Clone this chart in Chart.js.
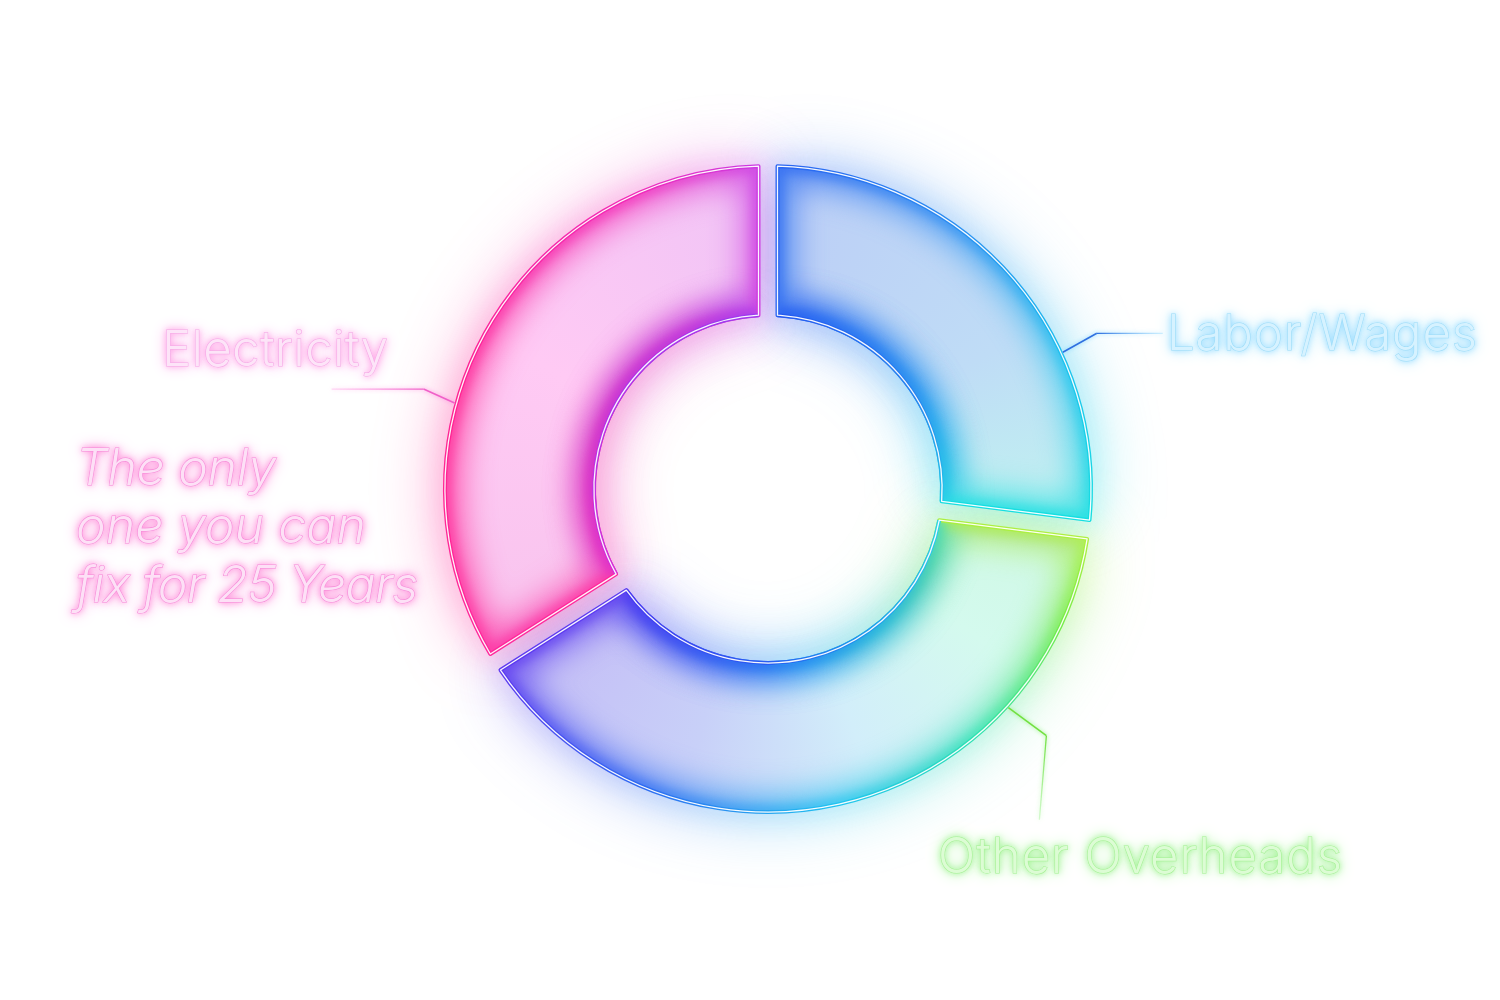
<!DOCTYPE html>
<html>
<head>
<meta charset="utf-8">
<script src="https://cdn.jsdelivr.net/npm/chart.js@4.4.0/dist/chart.umd.min.js"></script>
<style>
html,body{margin:0;padding:0;background:#ffffff;}
#c{display:block;}
</style>
</head>
<body>
<canvas id="c" width="1500" height="1000"></canvas>
<script>
// ---- data ----
const categories = ['Labor/Wages', 'Other Overheads', 'Electricity'];
const shares = [27, 39, 34];
const noteLines = ['The only', 'one you can', 'fix for 25 Years'];

// ---- styles (relative position inside each segment -> colour) ----
const edgeStops = [
  [[0,'#2a62f2'],[0.35,'#2a8cf2'],[0.7,'#1ec4ee'],[1,'#16e0e0']],
  [[0,'#b4f040'],[0.12,'#78ec48'],[0.3,'#30e2b0'],[0.5,'#20c4f0'],[0.75,'#2e6cf2'],[1,'#6038f0']],
  [[0,'#ff2a9c'],[0.4,'#ff2492'],[0.8,'#f22cb8'],[1,'#c83ce6']]
];
const innerStops = [
  [[0,'#2456f0'],[0.6,'#2a84f0'],[1,'#26cce8']],
  [[0,'#2ed8e8'],[0.35,'#2098f0'],[0.6,'#2a5cf2'],[1,'#4a36f0']],
  [[0,'#d630d8'],[0.5,'#b036ea'],[1,'#9a3cee']]
];
const fillStops = [
  [[0,'#bccef6'],[0.6,'#bfdcf6'],[1,'#c0f2f0']],
  [[0,'#cff8e4'],[0.2,'#d4faee'],[0.45,'#d2eefa'],[0.7,'#c8d0f8'],[1,'#c4bcf6']],
  [[0,'#f8c4ee'],[0.5,'#ffcaf4'],[1,'#f0c4f6']]
];
const labelStyles = [
  {x:1167, y:350, w:310, core:'#d6f2ff', line:'#9edcf8', glow:'#7fd4ff', lead:'#2f70e0', t:0.67, elbow:[34,-19], end:[66,0]},
  {x:938, y:873, w:404, core:'#dcfcd4', line:'#a6f096', glow:'#8cf07c', lead:'#72e040', t:0.25, elbow:[38,28], end:[-7,84]},
  {x:162, y:366, w:226, core:'#fde4f8', line:'#f4a8e6', glow:'#ff8ee0', lead:'#f060c8', t:0.39, elbow:[-31,-14], end:[-92,0]}
];
const GAP = 19;

function conic(ctx, a, stops){
  const g = ctx.createConicGradient(a.startAngle, a.x, a.y);
  const span = (a.endAngle - a.startAngle) / (2*Math.PI);
  stops.forEach(([t,c]) => g.addColorStop(Math.min(1, t*span), c));
  return g;
}
function segPath(a){
  const h = GAP/2, ro = a.outerRadius, ri = a.innerRadius;
  const dO = Math.asin(h/ro), dI = Math.asin(h/ri);
  const p = new Path2D();
  p.arc(a.x, a.y, ro, a.startAngle + dO, a.endAngle - dO);
  p.arc(a.x, a.y, ri, a.endAngle - dI, a.startAngle + dI, true);
  p.closePath();
  return p;
}
function innerArc(a){
  const dI = Math.asin(GAP/2/a.innerRadius);
  const p = new Path2D();
  p.arc(a.x, a.y, a.innerRadius, a.startAngle + dI, a.endAngle - dI);
  return p;
}

const neon = {
  id: 'neon',
  beforeDatasetsDraw(chart){
    const ctx = chart.ctx;
    const arcs = chart.getDatasetMeta(0).data;
    const paths = arcs.map(segPath);
    // outer halos
    arcs.forEach((a,i) => {
      ctx.save();
      ctx.filter = 'blur(34px)';
      ctx.globalAlpha = 0.45;
      ctx.fillStyle = conic(ctx, a, edgeStops[i]);
      ctx.fill(paths[i]);
      ctx.restore();
      ctx.save();
      ctx.filter = 'blur(12px)';
      ctx.globalAlpha = 0.35;
      ctx.strokeStyle = conic(ctx, a, edgeStops[i]);
      ctx.lineWidth = 6;
      ctx.stroke(paths[i]);
      ctx.restore();
      // haze into the hole
      ctx.save();
      ctx.filter = 'blur(22px)';
      ctx.globalAlpha = 0.3;
      ctx.strokeStyle = conic(ctx, a, innerStops[i]);
      ctx.lineWidth = 14;
      ctx.stroke(innerArc(a));
      ctx.restore();
    });
    // fills + inner glow
    arcs.forEach((a,i) => {
      ctx.save();
      ctx.fillStyle = conic(ctx, a, fillStops[i]);
      ctx.fill(paths[i]);
      ctx.clip(paths[i]);
      ctx.filter = 'blur(16px)';
      ctx.globalAlpha = 0.75;
      ctx.lineWidth = 30;
      ctx.strokeStyle = conic(ctx, a, edgeStops[i]);
      ctx.stroke(paths[i]);
      ctx.strokeStyle = conic(ctx, a, innerStops[i]);
      ctx.stroke(innerArc(a));
      ctx.filter = 'blur(6px)';
      ctx.globalAlpha = 0.8;
      ctx.lineWidth = 12;
      ctx.strokeStyle = conic(ctx, a, edgeStops[i]);
      ctx.stroke(paths[i]);
      ctx.strokeStyle = conic(ctx, a, innerStops[i]);
      ctx.stroke(innerArc(a));
      ctx.restore();
    });
    // crisp neon edges
    arcs.forEach((a,i) => {
      ctx.save();
      ctx.lineJoin = 'round';
      ctx.lineWidth = 4;
      ctx.strokeStyle = conic(ctx, a, edgeStops[i]);
      ctx.stroke(paths[i]);
      ctx.strokeStyle = conic(ctx, a, innerStops[i]);
      ctx.stroke(innerArc(a));
      ctx.lineWidth = 1.3;
      ctx.strokeStyle = 'rgba(255,255,255,0.95)';
      ctx.stroke(paths[i]);
      ctx.restore();
    });
    return false;
  },
  afterDraw(chart){
    const ctx = chart.ctx;
    const arcs = chart.getDatasetMeta(0).data;
    // leader lines + category labels
    arcs.forEach((a,i) => {
      const s = labelStyles[i];
      const ang = a.startAngle + s.t*(a.endAngle - a.startAngle);
      const r = a.outerRadius + 2;
      const x0 = a.x + Math.cos(ang)*r, y0 = a.y + Math.sin(ang)*r;
      const x1 = x0 + s.elbow[0], y1 = y0 + s.elbow[1];
      const x2 = x1 + s.end[0], y2 = y1 + s.end[1];
      ctx.save();
      ctx.lineWidth = 1.6;
      ctx.strokeStyle = s.lead;
      ctx.shadowColor = s.glow; ctx.shadowBlur = 4;
      ctx.beginPath(); ctx.moveTo(x0,y0); ctx.lineTo(x1,y1); ctx.stroke();
      const g = ctx.createLinearGradient(x1,y1,x2,y2);
      g.addColorStop(0, s.lead); g.addColorStop(1, s.glow + '55');
      ctx.strokeStyle = g; ctx.lineWidth = 1.3;
      ctx.beginPath(); ctx.moveTo(x1,y1); ctx.lineTo(x2,y2); ctx.stroke();
      ctx.restore();
      neonText(ctx, categories[i], s.x, s.y, 49, false, s.w, s);
    });
    const ns = {core:'#fde0f6', line:'#f58ad8', glow:'#ff70d0'};
    const noteW = [200, 290, 342];
    const noteY = [485, 543, 602];
    noteLines.forEach((t,k) => neonText(ctx, t, 76, noteY[k], 50, true, noteW[k], ns));
  }
};

function neonText(ctx, text, x, y, size, italic, targetW, s){
  ctx.save();
  ctx.font = (italic ? 'italic ' : '') + '300 ' + size + 'px Inter, "Open Sans", sans-serif';
  ctx.letterSpacing = '0px';
  const w = ctx.measureText(text).width;
  const ls = (targetW - w) / Math.max(1, text.length - 1);
  ctx.letterSpacing = ls.toFixed(2) + 'px';
  ctx.textBaseline = 'alphabetic';
  ctx.shadowColor = s.glow;
  ctx.shadowBlur = 14;
  ctx.fillStyle = s.line;
  ctx.fillText(text, x, y);
  ctx.shadowBlur = 6;
  ctx.fillText(text, x, y);
  ctx.shadowBlur = 0;
  ctx.lineWidth = 1;
  ctx.strokeStyle = s.line;
  ctx.strokeText(text, x, y);
  ctx.fillStyle = s.core;
  ctx.fillText(text, x, y);
  ctx.restore();
}

new Chart(document.getElementById('c'), {
  type: 'doughnut',
  data: {
    labels: categories,
    datasets: [{
      data: shares,
      backgroundColor: ['#1ea8f0', '#30e2b0', '#ff34a8'],
      borderWidth: 0
    }]
  },
  options: {
    responsive: false,
    animation: false,
    cutout: '53.9%',
    layout: { padding: { left: 445, right: 409, top: 166, bottom: 188 } },
    plugins: { legend: { display: false }, tooltip: { enabled: false } }
  },
  plugins: [neon]
});
</script>
</body>
</html>
